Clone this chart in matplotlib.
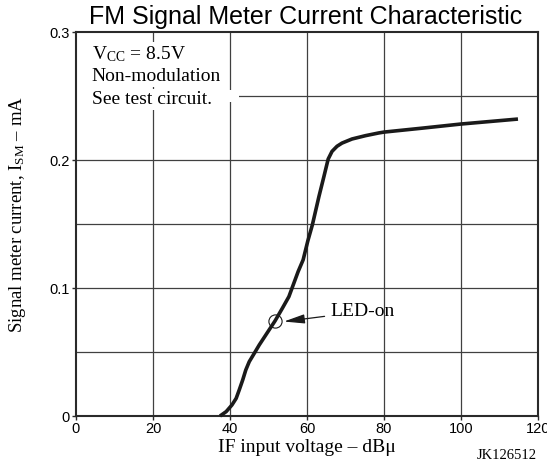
import matplotlib
matplotlib.use("Agg")
import matplotlib.pyplot as plt
from matplotlib.patches import Rectangle

# ---- data ----
if_input_dbu = [37.4, 39.0, 40.5, 41.6, 42.4, 43.3, 44.1, 45.0, 46.3, 47.6, 49.3, 51.7,
                53.6, 55.3, 57.7, 59.0, 60.2, 61.4, 63.1, 64.4, 65.5, 66.5, 67.8, 69.1,
                71.7, 75.2, 78.6, 80.0, 90.0, 100.0, 114.8]
ism_ma = [0.0, 0.0034, 0.0086, 0.0138, 0.0204, 0.0282, 0.036, 0.0425, 0.049, 0.0556,
          0.0634, 0.0744, 0.0843, 0.0934, 0.113, 0.1222, 0.1368, 0.1496, 0.1717, 0.1874,
          0.201, 0.207, 0.211, 0.2135, 0.2167, 0.2193, 0.2214, 0.2221, 0.2252, 0.2284,
          0.2323]
led_on_point = (51.7, 0.0744)
x_ticks = [0, 20, 40, 60, 80, 100, 120]
y_ticks = [0, 0.1, 0.2, 0.3]
y_tick_labels = ["0", "0.1", "0.2", "0.3"]
y_grid = [0.05, 0.1, 0.15, 0.2, 0.25]
x_grid = [20, 40, 60, 80, 100]
info_lines = [r'V$_{\mathrm{CC}}$ = 8.5V', 'Non-modulation', 'See test circuit.']

plt.rcParams['mathtext.fontset'] = 'custom'
plt.rcParams['mathtext.rm'] = 'Liberation Serif'
plt.rcParams['mathtext.it'] = 'Liberation Serif:italic'

SANS = 'Liberation Sans'
SERIF = 'Liberation Serif'

W, H = 547, 466
fig = plt.figure(figsize=(W / 100, H / 100), dpi=100)
L, R, T, B = 76, 538, 32.5, 416
ax = fig.add_axes([L / W, (H - B) / H, (R - L) / W, (B - T) / H])
ax.set_xlim(0, 120)
ax.set_ylim(0, 0.3)

gc = '#404040'
for g in x_grid:
    ax.axvline(g, color=gc, lw=0.9, zorder=1)
for g in y_grid:
    ax.axhline(g, color=gc, lw=0.9, zorder=1)

ax.plot(if_input_dbu, ism_ma, color='#1a1a1a', lw=2.6, solid_capstyle='butt',
        solid_joinstyle='round', zorder=3, clip_on=False)

ax.plot([led_on_point[0]], [led_on_point[1]], marker='o', ms=9.5, mfc='none',
        mec='#1a1a1a', mew=0.8, zorder=4)
ax.annotate('LED-on', xy=(led_on_point[0] + 2.3, led_on_point[1] - 0.0005),
            xytext=(66.0, 0.0817), fontsize=14, family=SERIF, va='center', ha='left',
            arrowprops=dict(arrowstyle='-|>,head_length=0.9,head_width=0.2',
                            color='#1a1a1a', lw=0.9, shrinkA=2, shrinkB=0),
            zorder=5)

for s in ax.spines.values():
    s.set_linewidth(1.5)
    s.set_color('#2a2a2a')

ax.set_xticks(x_ticks)
ax.set_yticks(y_ticks)
ax.set_yticklabels(y_tick_labels)
ax.tick_params(direction='out', length=3, width=1, color='#2a2a2a', labelsize=10.5,
               pad=1.5)
for lab in ax.get_xticklabels() + ax.get_yticklabels():
    lab.set_family(SANS)

# info box (white background hiding grid)
ax.add_patch(Rectangle((0, 0.2455), 42.4, 0.0095, facecolor='white', edgecolor='none',
                       zorder=2))
box = dict(facecolor='white', edgecolor='none', pad=1.5)
for txt, yb in zip(info_lines, [0.2788, 0.2618, 0.2443]):
    ax.text(4.1, yb, txt, family=SERIF, fontsize=14, va='baseline', ha='left',
            bbox=box, zorder=2.5)

fig.text(89 / W, 1 - 24 / H, 'FM Signal Meter Current Characteristic', family=SANS,
         fontsize=18, ha='left', va='baseline')
fig.text(306.5 / W, 1 - 452 / H, 'IF input voltage – dBμ', family=SERIF, fontsize=14,
         ha='center', va='baseline')
fig.text(18 / W, 1 - 214 / H, r'Signal meter current, I$_{\mathrm{SM}}$ – mA', family=SERIF,
         fontsize=13.5, ha='center', va='center', rotation=90)
fig.text(507 / W, 1 - 459 / H, 'JK126512', family=SERIF, fontsize=10.5,
         ha='center', va='baseline')

fig.savefig('out.png', dpi=100)
